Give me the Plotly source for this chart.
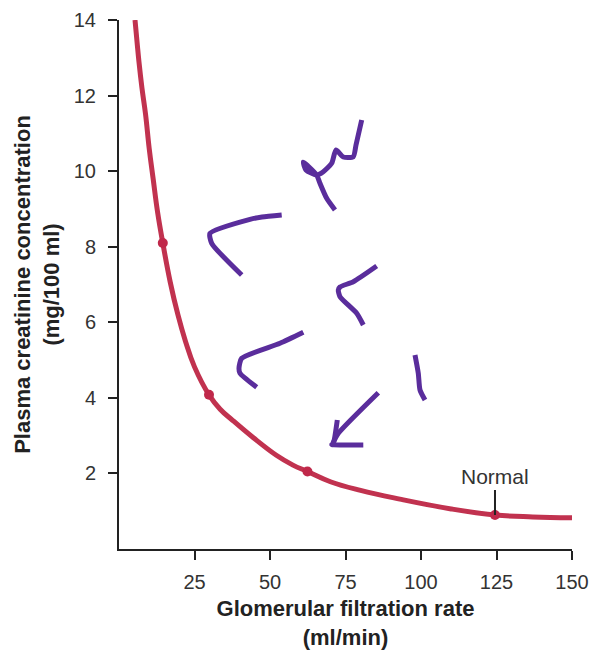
import plotly.graph_objects as go

# Curve
gfr = [5.3, 6.0, 6.6, 7.6, 8.8, 10.0, 11.3, 12.8, 14.5, 17.0, 19.5, 22.0, 25.0, 29.8, 33.5, 37.7,
       44.4, 52.1, 57.6, 62.4, 70.0, 80.0, 93.0, 110.0, 124.5, 137.0, 150.0]
creatinine = [14.0, 13.4, 12.9, 12.2, 11.5, 10.6, 9.8, 8.9, 8.1, 7.05, 6.2, 5.5, 4.82, 4.08, 3.7, 3.4,
              2.95, 2.48, 2.22, 2.05, 1.78, 1.55, 1.32, 1.06, 0.9, 0.85, 0.83]

# Highlighted points
dot_gfr = [14.5, 29.8, 62.4, 124.5]
dot_creat = [8.1, 4.08, 2.05, 0.9]

x_ticks = [25, 50, 75, 100, 125, 150]
y_ticks = [2, 4, 6, 8, 10, 12, 14]

# Hand-drawn purple annotation strokes (reference image pixel coords)
strokes_px = [
    [(361.7, 120), (356, 145), (353.3, 156.7), (343.3, 157), (336, 150), (331.7, 163.3),
     (323.3, 171.7), (316.7, 175), (306, 170), (303.3, 162), (308, 166), (316.7, 175),
     (320, 183.3), (326.7, 198.3), (335, 210)],
    [(281.7, 215), (262, 217), (250, 219.3), (210, 233.3), (211.7, 243.3), (241.7, 275)],
    [(376.7, 266), (353.3, 281.7), (340, 287), (338.3, 290), (340, 296.7), (356.7, 313.3), (363.3, 325)],
    [(303.3, 332.3), (280, 343.3), (241.7, 358.3), (239, 368), (240, 373.3), (256.7, 387.3)],
    [(415, 355), (418.3, 373.3), (420, 390), (425, 400)],
    [(378.3, 392.7), (338.3, 433.3), (333, 443)],
    [(337.3, 420), (333.3, 443.3), (331.7, 444.5), (363.3, 445)],
]

W, H = 592, 650
L, R, T, B = 119, 20, 20, 101


def to_data(px, py):
    x = (px - L) / (W - L - R) * 150.0
    y = (H - B - py) / (H - B - T) * 14.0
    return x, y


fig = go.Figure()

fig.add_trace(go.Scatter(
    x=gfr, y=creatinine, mode="lines",
    line=dict(color="#C1324F", width=5, shape="spline", smoothing=1.2),
    hoverinfo="skip", showlegend=False, cliponaxis=False,
))

fig.add_trace(go.Scatter(
    x=dot_gfr, y=dot_creat, mode="markers",
    marker=dict(color="#C0284A", size=10),
    showlegend=False, cliponaxis=False,
))

for s in strokes_px:
    pts = [to_data(px, py) for px, py in s]
    fig.add_trace(go.Scatter(
        x=[p[0] for p in pts], y=[p[1] for p in pts], mode="lines",
        line=dict(color="#5A2D9C", width=5, shape="spline", smoothing=0.6),
        hoverinfo="skip", showlegend=False, cliponaxis=False,
    ))

fig.add_annotation(
    x=dot_gfr[-1], y=dot_creat[-1], text="Normal",
    showarrow=True, arrowhead=0, arrowwidth=2, arrowcolor="#222",
    ax=0, ay=-38, font=dict(size=21, color="#333", family="Liberation Sans"),
)

axis_common = dict(
    showline=True, linecolor="#222", linewidth=2,
    ticks="outside", ticklen=9, tickwidth=2, tickcolor="#222",
    showgrid=False, zeroline=False, automargin=False,
    tickfont=dict(size=20, color="#333", family="Liberation Sans"),
)

fig.update_layout(
    width=W, height=H,
    margin=dict(l=L, r=R, t=T, b=B),
    paper_bgcolor="white", plot_bgcolor="white",
    font=dict(family="Liberation Sans", color="#222"),
    xaxis=dict(
        range=[0, 150], tickvals=x_ticks, ticktext=[str(v) for v in x_ticks],
        ticklabelstandoff=5,
        title=dict(text="Glomerular filtration rate<br>(ml/min)",
                   font=dict(size=22, color="#222", weight="bold"), standoff=13),
        **axis_common,
    ),
    yaxis=dict(
        range=[0, 14], tickvals=y_ticks, ticktext=[str(v) for v in y_ticks],
        ticklabelstandoff=8,
        title=dict(text="Plasma creatinine concentration<br>(mg/100 ml)",
                   font=dict(size=22, color="#222", weight="bold"), standoff=8),
        **axis_common,
    ),
)

fig.write_html(
    "out.html",
    config={"displayModeBar": False},
    post_script="document.body.style.margin='0';document.body.style.overflow='hidden';",
)
